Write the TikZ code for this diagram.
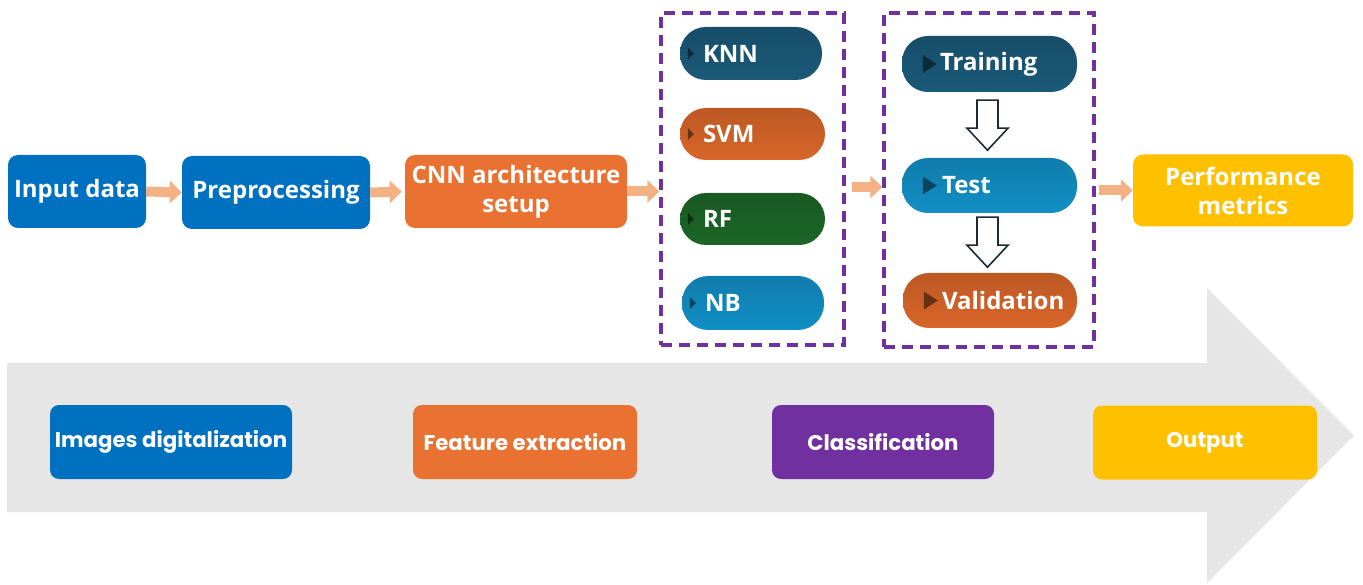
\documentclass[tikz,border=0pt]{standalone}
\usepackage{fontspec}
\setmainfont{Open Sans}
\newfontfamily\poppfont{Poppins}
\usetikzlibrary{arrows.meta,calc}
\definecolor{cblue}{HTML}{0070C0}
\definecolor{corange}{HTML}{E97132}
\definecolor{cpurple}{HTML}{7030A0}
\definecolor{cyellow}{HTML}{FFC000}
\definecolor{csalmon}{HTML}{F4B183}
\definecolor{cgray}{HTML}{E7E6E6}
\definecolor{pteal}{HTML}{1C5F80}
\definecolor{porange}{HTML}{E66C2C}
\definecolor{pgreen}{HTML}{1E6C2A}
\definecolor{plblue}{HTML}{1398D2}
\definecolor{hollowline}{HTML}{1B2A38}
\tikzset{
  topbox/.style={rectangle, rounded corners=10pt, fill=#1, text=white, align=center,
    font=\fontsize{24}{29}\selectfont\bfseries, inner sep=0pt},
  botbox/.style={rectangle, rounded corners=9pt, fill=#1, text=white, align=center,
    font=\poppfont\fontsize{21.3}{25}\selectfont\bfseries, inner sep=0pt,
    minimum height=74pt},
  pill/.style={rectangle, rounded corners=26pt, shade, top color=#1!82!black,
    middle color=#1, bottom color=#1!94!black, text=white,
    font=\fontsize{24}{29}\selectfont\bfseries, inner ysep=0pt},
  groupbox/.style={rectangle, draw=cpurple, line width=3.2pt,
    dash pattern=on 11pt off 7pt, inner sep=0pt},
  salmonarrow/.style={draw=csalmon, line width=10pt,
    -{Triangle[length=12pt,width=22pt]}},
  hollow/.style={draw=hollowline, fill=white, line width=1.6pt, line join=miter},
  marker/.style={fill=#1!45!black}
}
\newcommand\hollowdown[1]{%
  \draw[hollow] ($#1+(-10.5,0)$) -- ++(21,0) -- ++(0,28) -- ++(10,0)
    -- ++(-20.5,22) -- ++(-20.5,-22) -- ++(10,0) -- cycle;}
\begin{document}
\begin{tikzpicture}[x=1pt,y=-1pt]
\useasboundingbox (0,0) rectangle (1363,585);
% big background arrow
\fill[cgray] (7,363) -- (1207,363) -- (1207,288) -- (1354,435.5)
  -- (1207,583) -- (1207,512) -- (7,512) -- cycle;

% top flow
\node[topbox=cblue, minimum width=138pt, minimum height=73pt] (inp) at (77,191.5) {Input data};
\node[topbox=cblue, minimum width=188pt, minimum height=73pt] (pre) at (276,192.5) {Preprocessing};
\node[topbox=corange, minimum width=222pt, minimum height=73pt] (cnn) at (516,191.5) {CNN architecture\\setup};
\node[topbox=cyellow, minimum width=220pt, minimum height=72pt] (perf) at (1243,190.5) {Performance\\metrics};

% group boxes
\node[groupbox, minimum width=183pt, minimum height=332pt] (box1) at (752.5,179) {};
\node[groupbox, minimum width=210pt, minimum height=334pt] (box2) at (989,180) {};

% classifier pills
\node[pill=pteal, minimum height=53pt, inner xsep=23pt] (knn) at (751,53.5) {\makebox[96pt][l]{KNN}};
\node[pill=porange, minimum height=52pt, inner xsep=23pt] (svm) at (752.5,134) {\makebox[99pt][l]{SVM}};
\node[pill=pgreen, minimum height=52pt, inner xsep=23pt] (rf) at (752.5,219) {\makebox[99pt][l]{RF}};
\node[pill=plblue, minimum height=54pt, inner xsep=23pt] (nb) at (753,303) {\makebox[96pt][l]{NB}};
\foreach \p/\c in {knn/pteal,svm/porange,rf/pgreen,nb/plblue}{
  \fill[marker=\c] ($(\p.west)+(8,-6)$) -- ++(6,6) -- ++(-6,6) -- cycle;
}

% training pills
\node[pill=pteal, minimum height=56pt, inner xsep=38pt] (train) at (989.5,64) {\makebox[99pt][l]{Training}};
\node[pill=plblue, minimum height=55pt, inner xsep=40pt] (test) at (989.5,185.5) {\makebox[95pt][l]{Test}};
\node[pill=porange, minimum height=55pt, inner xsep=39pt] (valid) at (990,300.5) {\makebox[96pt][l]{Validation}};
\foreach \p/\c in {train/pteal,test/plblue,valid/porange}{
  \fill[marker=\c] ($(\p.west)+(21,-9)$) -- ++(14,9) -- ++(-14,9) -- cycle;
}
\hollowdown{(train.south)+(-2,8)}
\hollowdown{(test.south)+(-2,4)}

% salmon arrows
\draw[salmonarrow] (inp.east) -- (pre.west);
\draw[salmonarrow, shorten >=3pt] (pre.east) -- (cnn.west);
\draw[salmonarrow] (cnn.east) -- (cnn.east -| box1.west);
\draw[salmonarrow] ([xshift=6pt,yshift=-8pt]box1.east) -- ([yshift=-8pt]box1.east -| box2.west);
\draw[salmonarrow] ([xshift=3pt]box2.east |- perf.west) -- (perf.west);

% bottom stage boxes
\node[botbox=cblue, minimum width=242pt] (img) at (171,442) {Images digitalization};
\node[botbox=corange, minimum width=224pt] (feat) at (525,442) {Feature extraction};
\node[botbox=cpurple, minimum width=222pt] (cls) at (883,442) {Classification};
\node[botbox=cyellow, minimum width=224pt] (out) at (1205,442.5) {Output};
\end{tikzpicture}
\end{document}
